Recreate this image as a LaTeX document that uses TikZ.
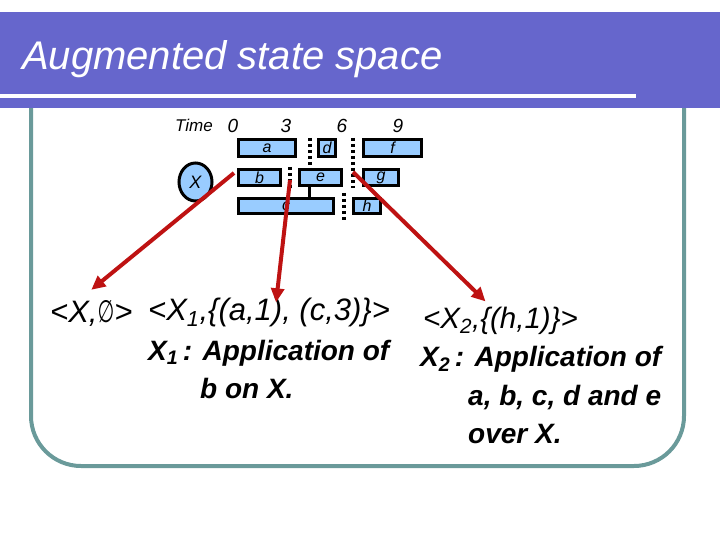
\documentclass[tikz,border=0pt]{standalone}
\usepackage{graphicx}
\usepackage{fontspec}
\setmainfont{Liberation Sans}
\newfontfamily\symfont{DejaVu Sans}
\usetikzlibrary{arrows.meta,shapes.geometric}
\definecolor{BannerPurple}{RGB}{102,102,204}
\definecolor{FrameTeal}{RGB}{106,154,154}
\definecolor{BarBlue}{RGB}{153,204,255}
\definecolor{ArrowRed}{RGB}{190,18,18}

\begin{document}
\begin{tikzpicture}[x=1pt,y=-1pt,
    bar/.style={draw=black,line width=3pt,fill=BarBlue,inner sep=0pt,
      font=\fontsize{16}{16}\selectfont\itshape},
    sep/.style={line width=4pt,dash pattern=on 3.5pt off 2.5pt},
    tick/.style={font=\fontsize{19}{19}\selectfont\itshape},
    tuple/.style={anchor=base west,inner sep=0pt,font=\fontsize{31}{31}\selectfont\itshape},
    note/.style={anchor=base west,inner sep=0pt,font=\fontsize{28}{28}\selectfont\bfseries\itshape},
    redarrow/.style={ArrowRed,line width=4pt,-{Triangle[length=14pt,width=13pt]}}]
  \useasboundingbox (0,0) rectangle (720,540);
  % frame and banner
  \draw[FrameTeal,line width=4pt,rounded corners=50pt] (31,100) -- (31,466) -- (684,466) -- (684,100);
  \fill[BannerPurple] (0,12) rectangle (720,108);
  \fill[white] (0,94.5) rectangle (636,98);
  \node[anchor=base west,inner sep=0pt,white,font=\fontsize{40}{40}\selectfont\itshape] (title) at (22,70) {Augmented state space};

  % time axis
  \node[tick,font=\fontsize{17}{17}\selectfont\itshape] (time) at (194,125) {Time};
  \node[tick] (t0) at (233,126) {0};
  \node[tick] (t3) at (286,126) {3};
  \node[tick] (t6) at (342,126) {6};
  \node[tick] (t9) at (398,126) {9};

  % actions
  \node[bar,minimum width=57pt,minimum height=17pt] (a) at (267,148) {a};
  \node[bar,minimum width=17pt,minimum height=17pt] (d) at (327,148) {d};
  \node[bar,minimum width=58pt,minimum height=17pt] (f) at (392.5,148) {f};
  \node[bar,minimum width=42pt,minimum height=16pt] (b) at (259.5,177.5) {b};
  \node[bar,minimum width=42pt,minimum height=16pt] (e) at (320.5,177.5) {e};
  \node[bar,minimum width=35pt,minimum height=16pt] (g) at (381,177.5) {g};
  \node[bar,minimum width=95pt,minimum height=15pt] (c) at (286,206) {c};
  \node[bar,minimum width=27pt,minimum height=15pt] (h) at (367,206) {h};
  \node[draw=black,line width=3pt,fill=BarBlue,ellipse,inner sep=0pt,minimum width=33pt,minimum height=38pt,
    font=\fontsize{18}{18}\selectfont\itshape] (x) at (195.5,182) {X};

  % separators
  \draw[sep] (309.5,138) -- (309.5,168);
  \draw[sep] (290,167) -- (290,188);
  \draw[sep] (353,138) -- (353,188);
  \draw[sep] (344,193) -- (344,221);
  \coordinate (ec) at (309.5,0);
  \draw[line width=2.5pt] (e.south -| ec) -- (c.north -| ec);

  % states
  \node[tuple] (s0) at (50,322) {<X,\scalebox{0.62}[1]{\symfont ∅}>};
  \node[tuple] (s1) at (148,320) {<X\textsubscript{1},\{(a,1), (c,3)\}>};
  \node[note] (s1a) at (148,360) {X\textsubscript{1}\,: Application of};
  \node[note] (s1b) at (200,398) {b on X.};
  \node[tuple,font=\fontsize{29.5}{29.5}\selectfont\itshape] (s2) at (423,328) {<X\textsubscript{2},\{(h,1)\}>};
  \node[note] (s2a) at (420,366) {X\textsubscript{2}\,: Application of};
  \node[note] (s2b) at (468,405) {a, b, c, d and e};
  \node[note] (s2c) at (468,443) {over X.};

  % arrows
  \coordinate (p0) at (234,173);
  \coordinate (p1) at (290,180);
  \coordinate (p2) at (353,172);
  \draw[redarrow] (p0) -- ([xshift=0pt,yshift=10pt]s0.north);
  \draw[redarrow] (p1) -- ([xshift=7pt,yshift=-5pt]s1.north);
  \draw[redarrow] (p2) -- ([xshift=-15pt,yshift=5pt]s2.north);
\end{tikzpicture}
\end{document}
